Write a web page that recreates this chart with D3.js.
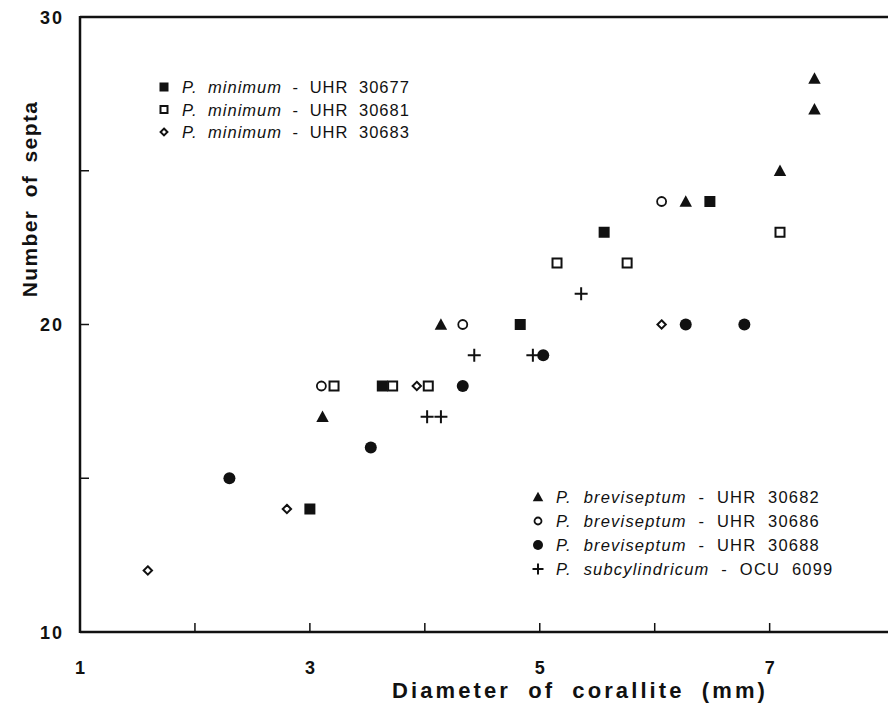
<!DOCTYPE html>
<html>
<head>
<meta charset="utf-8">
<script src="https://cdn.jsdelivr.net/npm/d3@7"></script>
<style>
  body { margin: 0; background: #fff; }
  svg { display: block; font-family: "Liberation Sans", Arial, sans-serif; }
</style>
</head>
<body>
<svg id="chart" width="888" height="703"></svg>
<script>
// diameter (mm) and septa count for each specimen
const minimum30677X = [3.0, 3.63, 4.83, 5.56, 6.48]
const minimum30677Y = [14, 18, 20, 23, 24]
const minimum30681X = [3.21, 3.72, 4.03, 5.15, 5.76, 7.09]
const minimum30681Y = [18, 18, 18, 22, 22, 23]
const minimum30683X = [1.59, 2.8, 3.93, 6.06]
const minimum30683Y = [12, 14, 18, 20]
const brevi30682X = [3.11, 4.14, 6.27, 7.09, 7.39, 7.39]
const brevi30682Y = [17, 20, 24, 25, 27, 28]
const brevi30686X = [3.1, 4.33, 6.06]
const brevi30686Y = [18, 20, 24]
const brevi30688X = [2.3, 3.53, 4.33, 5.03, 6.27, 6.78]
const brevi30688Y = [15, 16, 18, 19, 20, 20]
const subcyl6099X = [4.02, 4.14, 4.43, 4.94, 5.36]
const subcyl6099Y = [17, 17, 19, 19, 21]

const xTicks = [2, 3, 4, 5, 6, 7]
const xLabels = [1, 3, 5, 7]
const yTicks = [15, 20, 25]
const yLabels = [10, 20, 30]

const series = [
  { sp: "P. minimum", id: "UHR 30677", xs: minimum30677X, ys: minimum30677Y, shape: "fsquare" },
  { sp: "P. minimum", id: "UHR 30681", xs: minimum30681X, ys: minimum30681Y, shape: "osquare" },
  { sp: "P. minimum", id: "UHR 30683", xs: minimum30683X, ys: minimum30683Y, shape: "diamond" },
  { sp: "P. breviseptum", id: "UHR 30682", xs: brevi30682X, ys: brevi30682Y, shape: "triangle" },
  { sp: "P. breviseptum", id: "UHR 30686", xs: brevi30686X, ys: brevi30686Y, shape: "ocircle" },
  { sp: "P. breviseptum", id: "UHR 30688", xs: brevi30688X, ys: brevi30688Y, shape: "fcircle" },
  { sp: "P. subcylindricum", id: "OCU 6099", xs: subcyl6099X, ys: subcyl6099Y, shape: "plus" },
]

const svg = d3.select("#chart")
const x = d3.scaleLinear().domain([1, 8]).range([80, 884.6])
const y = d3.scaleLinear().domain([10, 30]).range([632, 17])

const ink = "#111"

// frame: left, bottom, top
svg.append("line").attr("x1", 80).attr("x2", 888).attr("y1", y(30)).attr("y2", y(30))
  .attr("stroke", ink).attr("stroke-width", 2.5)
svg.append("line").attr("x1", 80).attr("x2", 888).attr("y1", y(10)).attr("y2", y(10))
  .attr("stroke", ink).attr("stroke-width", 2.5)
svg.append("line").attr("x1", 80).attr("x2", 80).attr("y1", y(30) - 1).attr("y2", y(10) + 1)
  .attr("stroke", ink).attr("stroke-width", 2.5)

svg.selectAll("line.xt").data(xTicks).join("line").attr("class", "xt")
  .attr("x1", (d) => x(d)).attr("x2", (d) => x(d))
  .attr("y1", y(10)).attr("y2", y(10) - 9)
  .attr("stroke", ink).attr("stroke-width", 1.5)
svg.selectAll("line.yt").data(yTicks).join("line").attr("class", "yt")
  .attr("x1", 80).attr("x2", 89)
  .attr("y1", (d) => y(d)).attr("y2", (d) => y(d))
  .attr("stroke", ink).attr("stroke-width", 1.5)

svg.selectAll("text.xl").data(xLabels).join("text").attr("class", "xl")
  .attr("x", (d) => x(d)).attr("y", 674)
  .attr("text-anchor", "middle").attr("font-size", 18).attr("font-weight", "bold")
  .attr("fill", ink).text((d) => d)
svg.selectAll("text.yl").data(yLabels).join("text").attr("class", "yl")
  .attr("x", 64).attr("y", (d) => y(d) + 6.5)
  .attr("text-anchor", "end").attr("font-size", 18).attr("font-weight", "bold")
  .attr("letter-spacing", 2).attr("fill", ink).text((d) => d)

svg.append("text")
  .attr("x", 580).attr("y", 698).attr("text-anchor", "middle")
  .attr("font-size", 22).attr("font-weight", "bold")
  .attr("letter-spacing", 3.1).attr("word-spacing", 8)
  .attr("fill", ink).text("Diameter of corallite (mm)")
svg.append("text")
  .attr("transform", "translate(37,199) rotate(-90)").attr("text-anchor", "middle")
  .attr("font-size", 21).attr("font-weight", "bold")
  .attr("letter-spacing", 1.4).attr("word-spacing", 5)
  .attr("fill", ink).text("Number of septa")

const drawMark = (g, shape, s) => {
  if (shape === "fsquare") {
    g.append("rect").attr("x", -s / 2).attr("y", -s / 2).attr("width", s).attr("height", s).attr("fill", ink)
  } else if (shape === "osquare") {
    const t = s - 2
    g.append("rect").attr("x", -t / 2).attr("y", -t / 2).attr("width", t).attr("height", t)
      .attr("fill", "#fff").attr("stroke", ink).attr("stroke-width", 2)
  } else if (shape === "diamond") {
    const r = s * 0.38
    g.append("path").attr("d", `M0,${-r}L${r},0L0,${r}L${-r},0Z`)
      .attr("fill", "#fff").attr("stroke", ink).attr("stroke-width", 2)
  } else if (shape === "triangle") {
    const h = s * 0.95
    g.append("path").attr("d", `M0,${-h / 2 - 1}L${h / 2 + 1},${h / 2}L${-h / 2 - 1},${h / 2}Z`).attr("fill", ink)
  } else if (shape === "ocircle") {
    g.append("circle").attr("r", s / 2 - 1).attr("fill", "#fff").attr("stroke", ink).attr("stroke-width", 1.8)
  } else if (shape === "fcircle") {
    g.append("circle").attr("r", s / 2 + 0.5).attr("fill", ink)
  } else if (shape === "plus") {
    const r = s / 2 + 1
    g.append("path").attr("d", `M${-r},0H${r}M0,${-r}V${r}`).attr("stroke", ink).attr("stroke-width", 2)
  }
}

series.forEach((sr) => {
  sr.xs.forEach((v, i) => {
    const g = svg.append("g").attr("transform", `translate(${x(v)},${y(sr.ys[i])})`)
    drawMark(g, sr.shape, 11)
  })
})

// legends
const drawLegend = (items, lx, ly, step, ls, ws) => {
  items.forEach((sr, i) => {
    const g = svg.append("g").attr("transform", `translate(${lx},${ly + i * step})`)
    drawMark(g, sr.shape, 9)
    const t = g.append("text").attr("x", 18).attr("y", 6)
      .attr("font-size", 16.5).attr("letter-spacing", ls).attr("word-spacing", ws)
      .attr("fill", ink)
    t.append("tspan").attr("font-style", "italic").text(sr.sp)
    t.append("tspan").text(" - " + sr.id)
  })
}
drawLegend(series.slice(0, 3), 164, 87, 22.5, 1.0, 5)
drawLegend(series.slice(3), 538, 497, 24, 1.2, 6)
</script>
</body>
</html>
